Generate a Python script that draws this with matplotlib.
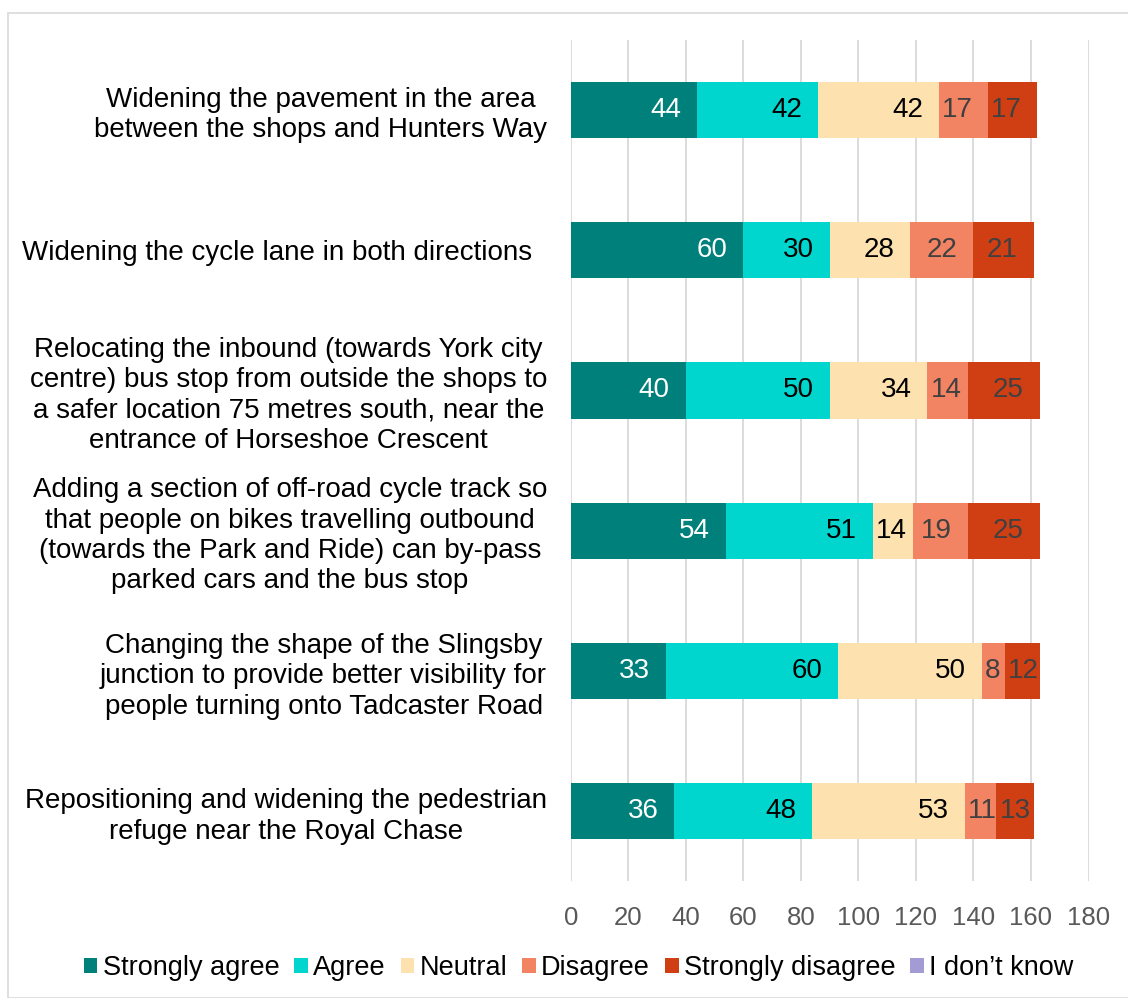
import numpy as np
import matplotlib.pyplot as plt
from matplotlib.patches import Rectangle

plt.rcParams['font.family'] = ['Liberation Sans', 'DejaVu Sans']

# categories, top to bottom
categories = [
    "Widening the pavement in the area\nbetween the shops and Hunters Way",
    "Widening the cycle lane in both directions  ",
    "Relocating the inbound (towards York city\ncentre) bus stop from outside the shops to\n"
    "a safer location 75 metres south, near the\nentrance of Horseshoe Crescent",
    "Adding a section of off-road cycle track so\nthat people on bikes travelling outbound\n"
    "(towards the Park and Ride) can by-pass\nparked cars and the bus stop",
    "Changing the shape of the Slingsby\njunction to provide better visibility for\n"
    "people turning onto Tadcaster Road",
    "Repositioning and widening the pedestrian\nrefuge near the Royal Chase",
]

strongly_agree = [44, 60, 40, 54, 33, 36]
agree = [42, 30, 50, 51, 60, 48]
neutral = [42, 28, 34, 14, 50, 53]
disagree = [17, 22, 14, 19, 8, 11]
strongly_disagree = [17, 21, 25, 25, 12, 13]
dont_know = [0, 0, 0, 0, 0, 0]

series = [strongly_agree, agree, neutral, disagree, strongly_disagree, dont_know]
names = ["Strongly agree", "Agree", "Neutral", "Disagree", "Strongly disagree", "I don\u2019t know"]
colors = ["#00807A", "#00D6CD", "#FDE1AF", "#F28463", "#D03F14", "#A29BD4"]
text_colors = ["white", "black", "black", "#404040", "#404040", "#404040"]

fs = 20

fig = plt.figure(figsize=(11.28, 9.98), dpi=100)
ax = fig.add_axes([0.506, 0.117, 0.459, 0.843])

y = np.arange(len(categories))
left = np.zeros(len(categories))
for vals, name, col in zip(series, names, colors):
    ax.barh(y, vals, left=left, height=0.4, color=col, label=name, zorder=2)
    left += np.array(vals)

ax.set_xlim(0, 180)
ax.set_ylim(len(categories) - 0.5, -0.5)
ax.set_xticks(np.arange(0, 181, 20))
ax.set_yticks(y)
ax.set_yticklabels(categories, multialignment='center', linespacing=1.22)
ax.tick_params(axis='y', length=0, pad=17, labelsize=fs, labelcolor='black')
ax.tick_params(axis='x', length=0, pad=18, labelsize=18.5, labelcolor='#595959')
ax.grid(axis='x', color='#D9D9D9', linewidth=1.3, zorder=0)
for s in ax.spines.values():
    s.set_visible(False)

# data labels, inside end like the original
fig.canvas.draw()
r = fig.canvas.get_renderer()
px_per_unit = ax.transData.transform((1, 0))[0] - ax.transData.transform((0, 0))[0]
left = np.zeros(len(categories))
for vals, tc in zip(series, text_colors):
    for i, v in enumerate(vals):
        if v == 0:
            continue
        end = left[i] + v
        t = ax.text(end, i, str(v), ha='right', va='center', color=tc, fontsize=fs, zorder=3)
        tw = t.get_window_extent(r).width
        w = v * px_per_unit
        pad = min(16, max(w - tw - 3, 0) if w > tw else (w - tw) / 2)
        t.set_x(end - pad / px_per_unit)
    left += np.array(vals)

leg = fig.legend(loc='center', bbox_to_anchor=(0.513, 0.03), ncol=6, frameon=False,
                 fontsize=19.5, handlelength=0.5, handleheight=0.5, handletextpad=0.2,
                 columnspacing=0.55)

fig.add_artist(Rectangle((8 / 1128, 0), 1, 1 - 13 / 998, transform=fig.transFigure,
                         fill=False, edgecolor='#D9D9D9', linewidth=1.2))

fig.savefig('out.png', dpi=100)
